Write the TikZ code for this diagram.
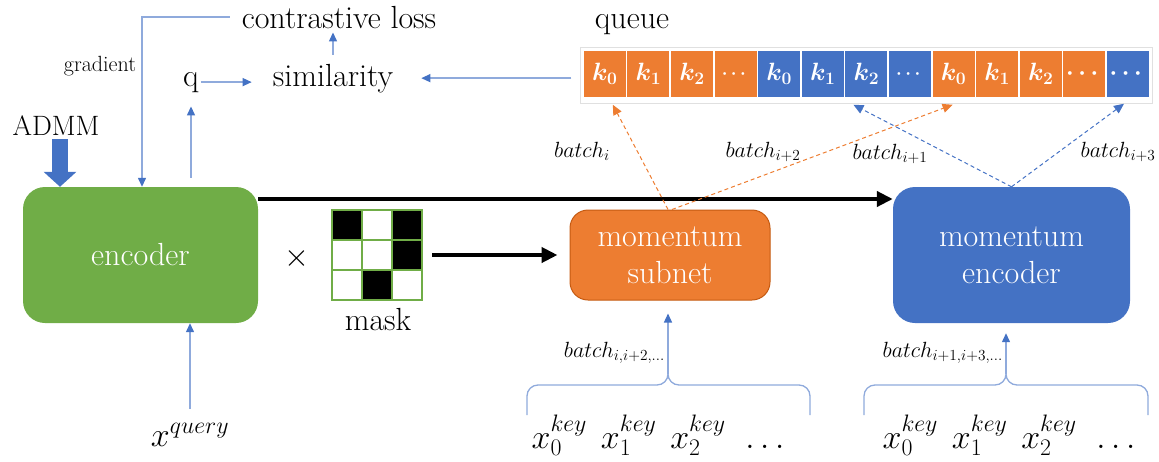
\documentclass[tikz,border=0pt]{standalone}
\usepackage{fix-cm}
\usepackage{amsmath,bm}
\usetikzlibrary{arrows.meta,calc}
\definecolor{cgreen}{HTML}{70AD47}
\definecolor{corange}{HTML}{ED7D31}
\definecolor{cordark}{HTML}{C55A11}
\definecolor{cblue}{HTML}{4472C4}
\definecolor{cline}{HTML}{8FAADC}
\newcommand{\fsz}[2]{\fontsize{#1}{#2}\selectfont}
\begin{document}
\begin{tikzpicture}[x=1pt,y=-1pt,
  txt/.style={inner sep=2pt, font=\fsz{32}{38}},
  lbl/.style={inner sep=1pt, font=\fsz{22}{26}},
  mbox/.style={rounded corners=22pt, text=white, align=center, inner sep=0pt, font=\fsz{32}{37}},
  cell/.style={draw=white, line width=1.5pt, minimum width=43.6pt, minimum height=48pt, inner sep=0pt, text=white},
  arr/.style={draw=cline, line width=1.3pt, -{Triangle[length=9pt,width=8pt,color=cblue]}},
  bigarr/.style={draw=black, line width=4pt, -{Triangle[length=16pt,width=15pt]}},
  odash/.style={draw=corange, line width=1pt, dash pattern=on 4pt off 3pt, -{Triangle[length=10pt,width=9pt]}},
  bdash/.style={draw=cblue, line width=1pt, dash pattern=on 4pt off 3pt, -{Triangle[length=10pt,width=9pt]}},
  brace/.style={draw=cline, line width=1.3pt}
]
\useasboundingbox (0,0) rectangle (1159,461);

% main boxes
\node[mbox, fill=cgreen, minimum width=235pt, minimum height=136pt] (enc) at (140.5,255) {encoder};
\node[mbox, fill=corange, draw=cordark, line width=1pt, rounded corners=18pt, minimum width=200pt, minimum height=90pt] (sub) at (670,255) {momentum\\subnet};
\node[mbox, fill=cblue, minimum width=237pt, minimum height=136pt] (menc) at (1011.5,255) {momentum\\encoder};

% texts
\node[txt, anchor=base] (closs) at (339,28) {contrastive loss};
\node[txt, anchor=base] (sim) at (333,86) {similarity};
\node[txt, anchor=base] (q) at (191,86) {q};
\node[inner sep=2pt, font=\fsz{22}{26}, anchor=base] (grad) at (100,71) {gradient};
\node[inner sep=2pt, font=\fsz{28}{32}, anchor=base] (admm) at (56,135) {ADMM};
\node[txt, anchor=base] (queue) at (632,28) {queue};
\node[txt, anchor=base] (times) at (297,266) {$\times$};
\node[txt, anchor=base] (masklbl) at (378,330) {mask};
\node[inner sep=2pt, font=\fsz{34}{38}, anchor=base] (xq) at (190,446) {$x^{query}$};
\node[inner sep=2pt, font=\fsz{34}{38}, anchor=base] (xk1) at (658,448) {$x_0^{key}\hspace{14pt}x_1^{key}\hspace{14pt}x_2^{key}\hspace{14pt}\ldots$};
\node[inner sep=2pt, font=\fsz{34}{38}, anchor=base] (xk2) at (1009,448) {$x_0^{key}\hspace{14pt}x_1^{key}\hspace{14pt}x_2^{key}\hspace{14pt}\ldots$};

% batch labels
\node[lbl, anchor=base] (bi) at (582,157) {$batch_{i}$};
\node[lbl, anchor=base] (bi2) at (763,157) {$batch_{i+2}$};
\node[lbl, anchor=base] (bi1) at (890,159) {$batch_{i+1}$};
\node[lbl, anchor=base] (bi3) at (1118,157) {$batch_{i+3}$};
\node[lbl, anchor=base east] (bsub) at (666,357) {$batch_{i,i+2,\ldots}$};
\node[lbl, anchor=base east] (benc) at (1004,357) {$batch_{i+1,i+3,\ldots}$};

% queue
\foreach \i/\col/\t/\s in {0/corange/k_0/25, 1/corange/k_1/25, 2/corange/k_2/25, 3/corange/\cdots/18,
  4/cblue/k_0/25, 5/cblue/k_1/25, 6/cblue/k_2/25, 7/cblue/\cdots/18,
  8/corange/k_0/25, 9/corange/k_1/25, 10/corange/k_2/25, 11/corange/\cdots/24, 12/cblue/\cdots/24}
  \node[cell, fill=\col, font=\fsz{\s}{\s}] (c\i) at ({604.8+43.6*\i},74) {$\bm{\t}$};
\draw[black!12, line width=1pt] ($(c0.north west)+(-2,-2)$) rectangle ($(c12.south east)+(2,5)$);

% mask
\node[minimum size=90pt, inner sep=0pt] (mask) at (377,255) {};
\foreach \r/\c in {0/0, 0/2, 1/2, 2/1}
  \fill[black] ($(mask.north west)+(30*\c,30*\r)$) rectangle +(30,30);
\foreach \k in {1,2} {
  \draw[cgreen, line width=1.5pt] ($(mask.north west)+(30*\k,0)$) -- +(0,90);
  \draw[cgreen, line width=1.5pt] ($(mask.north west)+(0,30*\k)$) -- +(90,0);
}
\draw[cgreen, line width=1.5pt] (mask.north west) rectangle (mask.south east);

% connectors
\draw[arr, shorten <=10pt] (closs.west) -| ([xshift=1.5pt]enc.north);
\draw[arr, shorten <=7pt, shorten >=2pt] (sim.north) -- (sim.north |- closs.south);
\draw[arr, shorten >=19pt] (q.east) -- (q.east -| sim.west);
\draw[arr, shorten <=9pt, shorten >=12pt] (q.south |- enc.north) -- (q.south);
\draw[arr, shorten <=11pt, shorten >=26pt] (c0.west |- sim.east) -- (sim.east);
\draw[arr, shorten <=12pt] (xq.north) -- (xq.north |- enc.south);
\draw[draw=cblue, line width=16pt, -{Triangle[length=15pt,width=32pt]}, shorten <=2pt] ([xshift=4pt]admm.south) -- ([xshift=4pt]admm.south |- enc.north);

\draw[bigarr] ([yshift=56pt]enc.east) -- ([yshift=56pt]menc.west);
\draw[bigarr, shorten <=10pt, shorten >=12pt] (mask.east) -- (sub.west);

\draw[odash] ([xshift=-2pt]sub.north) -- ([xshift=8pt,yshift=-6pt]c0.south);
\draw[odash] ([xshift=2pt]sub.north) -- ([xshift=-1pt,yshift=-6pt]c8.south);
\draw[bdash] (menc.north) -- ([xshift=-13pt,yshift=-6pt]c6.south);
\draw[bdash] (menc.north) -- ([xshift=-4pt,yshift=-5pt]c12.south);

% braces
\coordinate (b1) at (668,374);
\coordinate (b2) at (1006,374);
\draw[brace] (527,415) -- (527,396) to[out=90,in=180] (538,385) -- (657,385) to[out=0,in=-90] (b1) to[out=-90,in=180] (679,385) -- (799,385) to[out=0,in=90] (810,396) -- (810,415);
\draw[brace] (864,415) -- (864,396) to[out=90,in=180] (875,385) -- (995,385) to[out=0,in=-90] (b2) to[out=-90,in=180] (1017,385) -- (1137,385) to[out=0,in=90] (1148,396) -- (1148,415);
\draw[arr, shorten >=13pt] (b1) -- (b1 |- sub.south);
\draw[arr, shorten >=10pt] (b2) -- (b2 |- menc.south);
\end{tikzpicture}
\end{document}
